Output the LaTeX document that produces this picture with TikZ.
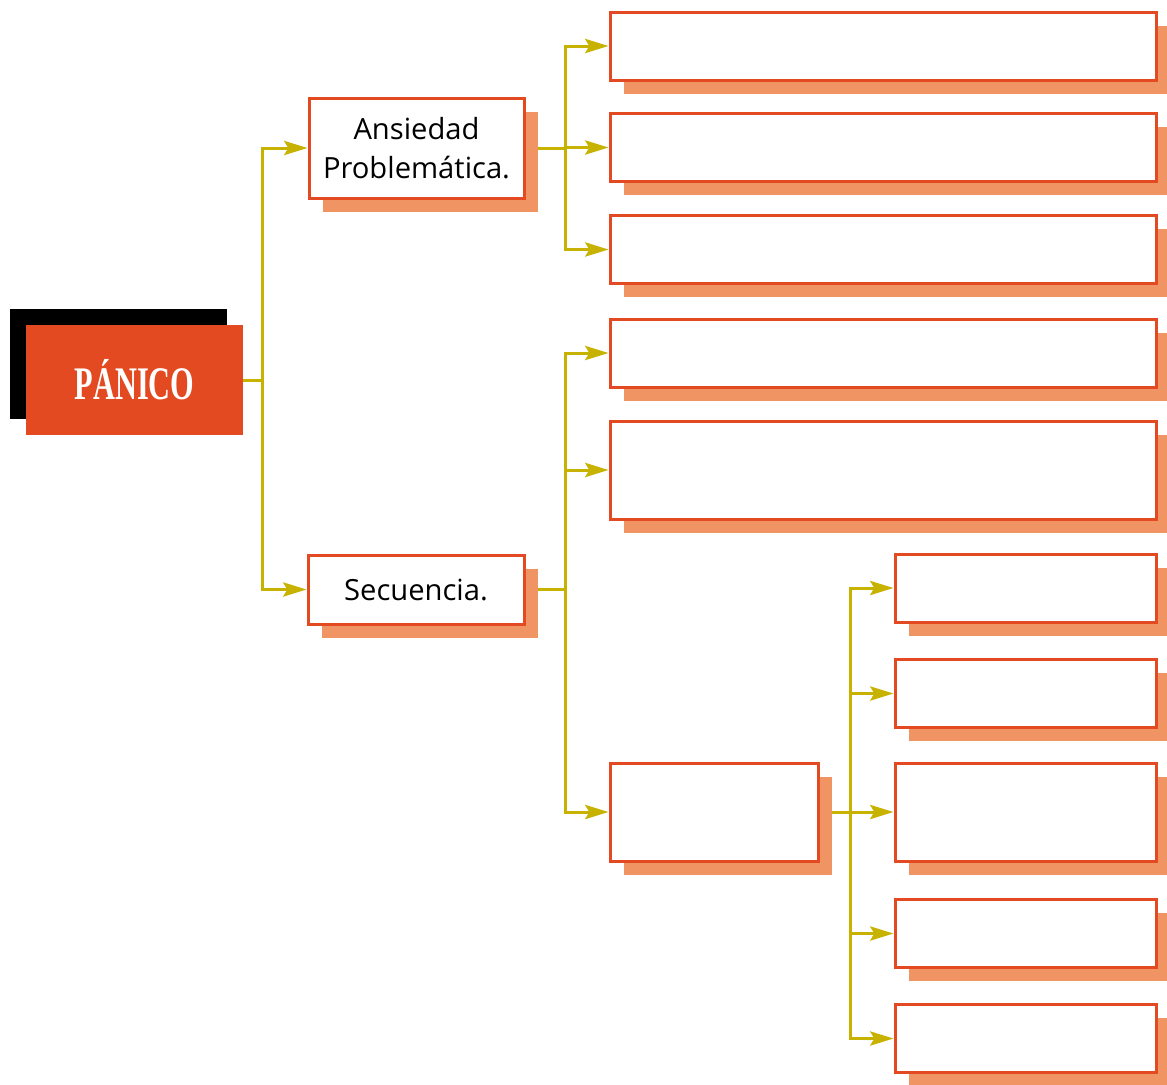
\documentclass[tikz,border=0pt]{standalone}
\usepackage{fontspec}
\setmainfont{Open Sans}
\newfontfamily\titlefont{Liberation Serif}
\usepackage{xcolor}
\usepackage{tikz}
\usetikzlibrary{arrows.meta,shadows,backgrounds}

\definecolor{panred}{RGB}{227,74,33}
\definecolor{shadowor}{RGB}{240,148,100}
\definecolor{linkyel}{RGB}{200,178,0}

\begin{document}
\begin{tikzpicture}[
  x=0.6pt, y=-0.6pt,
  font=\fontsize{17.5}{23}\selectfont,
  box/.style={draw=panred, line width=1.8pt, fill=white, align=center,
              inner sep=2pt,
              general shadow={fill=shadowor, shadow xshift=8.2pt,
                              shadow yshift=-8.2pt}},
  wide/.style={box, minimum width=327.6pt, minimum height=40.8pt},
  tall/.style={wide, minimum height=58.8pt},
  side/.style={box, minimum width=156.6pt, minimum height=40.8pt},
  title/.style={fill=panred, text=white, minimum width=130.2pt,
                minimum height=66pt,
                general shadow={fill=black, shadow xshift=-9.6pt,
                                shadow yshift=9.6pt}},
  link/.style={-{Stealth[length=14pt,width=8.5pt,inset=2.5pt]}, draw=linkyel,
               line width=1.8pt},
]
\useasboundingbox (0,0) rectangle (1167,1084);
% ---- root and first level ---------------------------------------------
\node[title] (panico) at (134.5,380)
  {\titlefont\bfseries\fontsize{28}{28}\selectfont\scalebox{0.65}[1]{PÁNICO}};
\node[box, minimum width=129pt, minimum height=60pt] (ansiedad)
  at (416.5,148) {Ansiedad\\Problemática.};
\node[box, minimum width=129.6pt, minimum height=41.4pt] (secuencia)
  at (416,589.5) {Secuencia.};
% ---- second level -----------------------------------------------------
\node[wide] (a1) at (883,46) {};
\node[wide] (a2) at (883,147.5) {};
\node[wide] (a3) at (883,249.5) {};
\node[wide] (b1) at (883,353) {};
\node[tall] (b2) at (883,470) {};
\node[box, minimum width=124.8pt, minimum height=58.8pt] (b3) at (714,812) {};
% ---- third level ------------------------------------------------------
\node[side] (c1) at (1025.5,588) {};
\node[side] (c2) at (1025.5,693.5) {};
\node[side, minimum height=58.8pt] (c3) at (1025.5,812) {};
\node[side] (c4) at (1025.5,933.5) {};
\node[side] (c5) at (1025.5,1038.5) {};
% ---- links ------------------------------------------------------------
\begin{scope}[on background layer]
\draw[link] (panico.east) -- ++(19,0) coordinate (j1) |- (ansiedad.west);
\draw[link] (j1) |- (secuencia.west);
\draw[link] (ansiedad.east) -- ++(40,0) coordinate (j2) |- (a1.west);
\draw[link] (j2) |- (a2.west);
\draw[link] (j2) |- (a3.west);
\draw[link] (secuencia.east) -- ++(40,0) coordinate (j3) |- (b1.west);
\draw[link] (j3) |- (b2.west);
\draw[link] (j3) |- (b3.west);
\draw[link] (b3.east) -- ++(31,0) coordinate (j4) |- (c1.west);
\draw[link] (j4) |- (c2.west);
\draw[link] (j4) |- (c3.west);
\draw[link] (j4) |- (c4.west);
\draw[link] (j4) |- (c5.west);
\end{scope}
\end{tikzpicture}
\end{document}
